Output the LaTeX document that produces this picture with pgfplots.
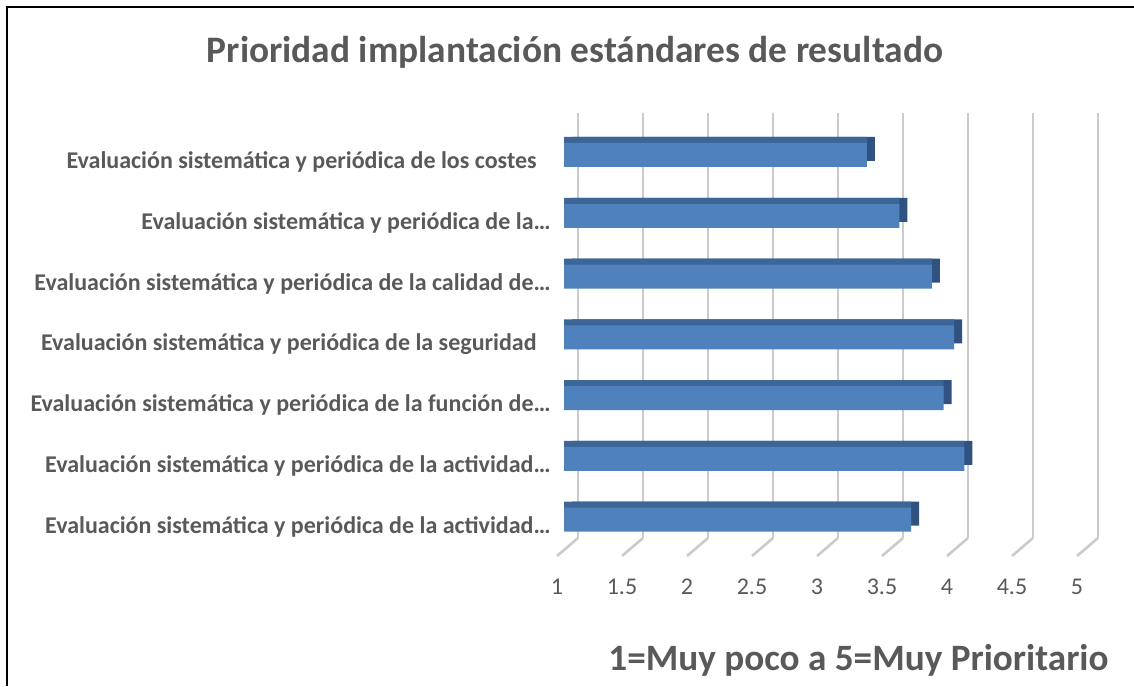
\documentclass[border=0pt]{standalone}
\usepackage{pgfplots}
\pgfplotsset{compat=1.18}
\usepackage{pgfplotstable}
\usepackage{fontspec}
\setmainfont{Carlito}
\definecolor{frontc}{HTML}{4F81BD}
\definecolor{topc}{HTML}{3C6598}
\definecolor{sidec}{HTML}{2F5280}
\definecolor{txt}{HTML}{595959}
\definecolor{gridc}{HTML}{CBCBCB}
\pgfplotstableread{
idx v
0 3.67
1 4.08
2 3.92
3 4.00
4 3.83
5 3.58
6 3.33
}\datatable
\begin{document}
\begin{tikzpicture}
\path[use as bounding box] (0,0) rectangle (567pt,343pt);
\draw[black, line width=0.8pt] (3.6pt,0) -- (3.6pt,339.5pt) -- (567pt,339.5pt);
\node[anchor=base, inner sep=0pt, text=txt, font=\fontsize{18.7}{22}\selectfont\bfseries] at (287.5pt,311.5pt) {Prioridad implantación estándares de resultado};
\node[anchor=base west, inner sep=0pt, text=txt, font=\fontsize{18.6}{22}\selectfont\bfseries] at (304pt,8pt) {1=Muy poco a 5=Muy Prioritario};
\begin{axis}[
  at={(282pt,68pt)}, anchor=south west,
  scale only axis, width=260pt, height=212.7pt,
  xmin=0, xmax=4, ymin=-0.5, ymax=6.5,
  clip=false,
  axis line style={draw=none},
  major tick style={draw=none},
  xtick={0,0.5,1,1.5,2,2.5,3,3.5,4},
  xticklabels={1,1.5,2,2.5,3,3.5,4,4.5,5},
  xticklabel style={anchor=center, xshift=-3.5pt, yshift=-18.5pt, text=txt, font=\fontsize{12}{14}\selectfont},
  ytick={0,1,2,3,4,5,6},
  yticklabels={
    Evaluación sistemática y periódica de la actividad…,
    Evaluación sistemática y periódica de la actividad…,
    Evaluación sistemática y periódica de la función de…,
    Evaluación sistemática y periódica de la seguridad\kern7pt,
    Evaluación sistemática y periódica de la calidad de…,
    Evaluación sistemática y periódica de la…,
    Evaluación sistemática y periódica de los costes\kern7pt},
  yticklabel style={anchor=east, inner sep=0pt, xshift=-6.5pt, yshift=-3.5pt, text=txt, font=\fontsize{12}{14}\selectfont\bfseries},
  xmajorgrids,
  major grid style={draw=gridc, line width=1.3pt, xshift=7pt, yshift=6pt},
]
\pgfplotsinvokeforeach{0,0.5,1,1.5,2,2.5,3,3.5,4}{
  \draw[gridc, line width=1.3pt] ([xshift=7pt,yshift=6pt]axis cs:#1,-0.5) -- ([xshift=-3.5pt,yshift=-3pt]axis cs:#1,-0.5);
}
\addplot[xbar, bar shift=0pt, bar width=12pt, fill=sidec, draw=none, xshift=4pt, yshift=3pt]
  table[x expr=\thisrow{v}-1, y=idx]{\datatable};
\addplot[xbar, bar shift=0pt, bar width=12pt, fill=topc, draw=none, yshift=3pt]
  table[x expr=\thisrow{v}-1, y=idx]{\datatable};
\addplot[xbar, bar shift=0pt, bar width=12pt, fill=frontc, draw=none]
  table[x expr=\thisrow{v}-1, y=idx]{\datatable};
\end{axis}
\end{tikzpicture}
\end{document}
